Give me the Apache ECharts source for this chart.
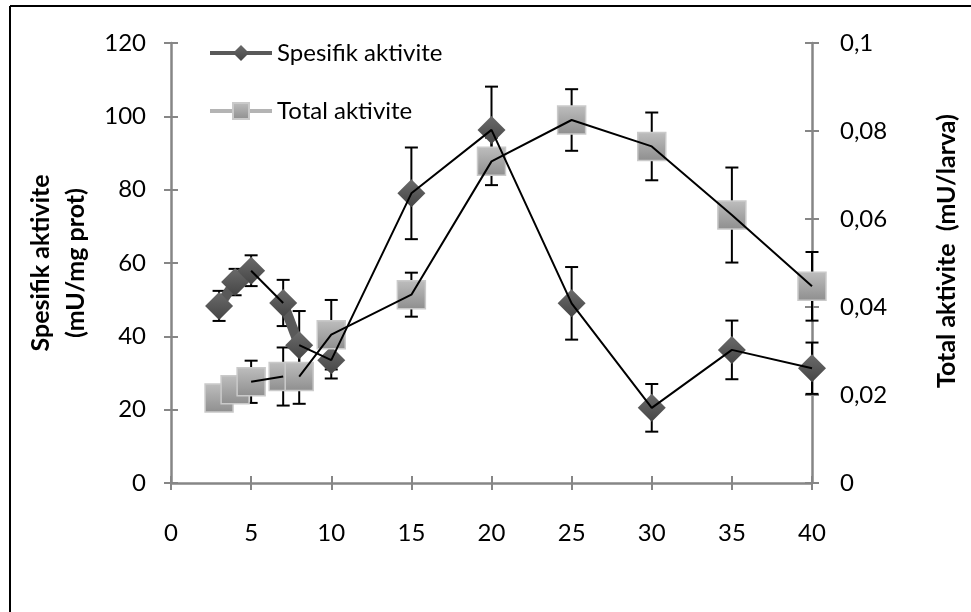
<!DOCTYPE html>
<html>
<head>
<meta charset="utf-8">
<script src="https://cdn.jsdelivr.net/npm/echarts@6/dist/echarts.min.js"></script>
<style>
    html, body { margin: 0; padding: 0; background: #fff; }
    #chart { width: 971px; height: 612px; }
</style>
</head>
<body>
<div id="chart"></div>
<script>
    // x ekseni: gün
    var days = [3, 4, 5, 7, 8, 10, 15, 20, 25, 30, 35, 40];
    // sol eksen: mU/mg prot
    var spesifik = [48.3, 54.8, 57.9, 49.1, 37.6, 33.5, 79.0, 96.3, 49.0, 20.5, 36.3, 31.3];
    var spesifikErr = [4.1, 3.6, 4.2, 6.3, 9.3, 5.0, 12.5, 11.8, 9.9, 6.5, 8.0, 7.0];
    // sag eksen: mU/larva
    var total = [0.0193, 0.0212, 0.0230, 0.0242, 0.0242, 0.0337, 0.0428, 0.0731, 0.0825, 0.0765, 0.0609, 0.0447];
    var totalErr = [0.002, 0.002, 0.0048, 0.0066, 0.0062, 0.0079, 0.005, 0.0054, 0.007, 0.0077, 0.0108, 0.0078];
    // hangi noktalar siyah / gri cizgiyle bagli
    var blackRuns = [[5, 7], [8, 10, 15, 20, 25, 30, 35, 40]];
    var grayRuns = [[3, 4, 5], [7, 8]];

    var FONT = 'Lato';
    var AXIS_GRAY = '#868686';

    function pairs(vals, run) {
        var out = [];
        for (var i = 0; i < run.length; i++) {
            var k = days.indexOf(run[i]);
            out.push([days[k], vals[k]]);
        }
        return out;
    }
    function allPairs(vals) {
        return pairs(vals, days);
    }
    function errData(vals, errs) {
        var out = [];
        for (var i = 0; i < days.length; i++) {
            out.push([days[i], vals[i] - errs[i], vals[i] + errs[i]]);
        }
        return out;
    }
    function errorBars(yIndex, vals, errs) {
        return {
            type: 'custom',
            yAxisIndex: yIndex,
            silent: true,
            z: 2,
            encode: {x: 0, y: [1, 2]},
            data: errData(vals, errs),
            renderItem: function (params, api) {
                var x = api.value(0);
                var lo = api.coord([x, api.value(1)]);
                var hi = api.coord([x, api.value(2)]);
                var w = 6.5;
                var st = {stroke: '#000', lineWidth: 2};
                return {
                    type: 'group',
                    children: [
                        {type: 'line', shape: {x1: hi[0], y1: hi[1], x2: lo[0], y2: lo[1]}, style: st},
                        {type: 'line', shape: {x1: hi[0] - w, y1: hi[1], x2: hi[0] + w, y2: hi[1]}, style: st},
                        {type: 'line', shape: {x1: lo[0] - w, y1: lo[1], x2: lo[0] + w, y2: lo[1]}, style: st}
                    ]
                };
            }
        };
    }
    function runLines(yIndex, vals, runs, color, width, z) {
        var list = [];
        for (var i = 0; i < runs.length; i++) {
            list.push({
                type: 'line',
                yAxisIndex: yIndex,
                data: pairs(vals, runs[i]),
                symbol: 'none',
                silent: true,
                z: z,
                lineStyle: {color: color, width: width}
            });
        }
        return list;
    }

    var series = [];
    series.push(errorBars(0, spesifik, spesifikErr));
    series.push(errorBars(1, total, totalErr));
    series = series.concat(runLines(0, spesifik, grayRuns, '#595959', 10, 3));
    series = series.concat(runLines(1, total, grayRuns, '#a6a6a6', 10, 3));
    series.push({
        name: 'Spesifik aktivite',
        type: 'line',
        yAxisIndex: 0,
        data: allPairs(spesifik),
        symbol: 'diamond',
        symbolSize: 28,
        z: 4,
        lineStyle: {opacity: 0},
        itemStyle: {
            color: new echarts.graphic.LinearGradient(0, 0, 0, 1, [
                {offset: 0, color: '#6b6b6b'}, {offset: 1, color: '#454545'}
            ])
        }
    });
    series.push({
        name: 'Total aktivite',
        type: 'line',
        yAxisIndex: 1,
        data: allPairs(total),
        symbol: 'rect',
        symbolSize: 28,
        z: 5,
        lineStyle: {opacity: 0},
        itemStyle: {
            color: new echarts.graphic.LinearGradient(0, 0, 0, 1, [
                {offset: 0, color: '#bebebe'}, {offset: 1, color: '#8e8e8e'}
            ]),
            borderColor: '#cacaca',
            borderWidth: 1.5
        }
    });
    series = series.concat(runLines(0, spesifik, blackRuns, '#000', 2, 6));
    series = series.concat(runLines(1, total, blackRuns, '#000', 2, 6));

    function tickOnly(pos, min, max, step) {
        return {
            type: 'value', position: pos, min: min, max: max, interval: step,
            axisLine: {show: false, onZero: false},
            axisTick: {show: true, inside: true, length: 7, lineStyle: {color: AXIS_GRAY, width: 2}},
            axisLabel: {show: false},
            splitLine: {show: false}
        };
    }

    var chart = echarts.init(document.getElementById('chart'));
    var option = {
        animation: false,
        backgroundColor: '#fff',
        grid: {left: 171, right: 159, top: 43, bottom: 129, outerBoundsMode: 'none'},
        legend: {
            left: 203,
            top: 36,
            orient: 'vertical',
            itemWidth: 62,
            itemHeight: 20,
            itemGap: 34,
            textStyle: {fontFamily: FONT, fontSize: 24, color: '#000'},
            data: [
                {name: 'Spesifik aktivite', lineStyle: {color: '#595959', width: 4, opacity: 1}},
                {name: 'Total aktivite', lineStyle: {color: '#b4b4b4', width: 4, opacity: 1}}
            ]
        },
        xAxis: [{
            type: 'value', position: 'bottom', min: 0, max: 40, interval: 5,
            axisLine: {show: true, onZero: false, lineStyle: {color: AXIS_GRAY, width: 2.5}},
            axisTick: {show: true, length: 7, lineStyle: {color: AXIS_GRAY, width: 2}},
            axisLabel: {margin: 38, fontFamily: FONT, fontSize: 24, color: '#000'},
            splitLine: {show: false}
        }, tickOnly('bottom', 0, 40, 5)],
        yAxis: [{
            type: 'value', position: 'left', min: 0, max: 120, interval: 20,
            name: 'Spesifik aktivite\n(mU/mg prot)',
            nameLocation: 'middle', nameRotate: 90, nameGap: 62,
            nameTextStyle: {fontFamily: FONT, fontSize: 25, fontWeight: 'bold', color: '#000', lineHeight: 35},
            axisLine: {show: true, onZero: false, lineStyle: {color: AXIS_GRAY, width: 2.5}},
            axisTick: {show: true, length: 7, lineStyle: {color: AXIS_GRAY, width: 2}},
            axisLabel: {margin: 25, fontFamily: FONT, fontSize: 24, color: '#000'},
            splitLine: {show: false}
        }, {
            type: 'value', position: 'right', min: 0, max: 0.1, interval: 0.02,
            name: 'Total aktivite  (mU/larva)',
            nameLocation: 'middle', nameRotate: 90, nameGap: 122,
            nameTextStyle: {fontFamily: FONT, fontSize: 25, fontWeight: 'bold', color: '#000', padding: [0, 0, 0, 24]},
            axisLine: {show: true, onZero: false, lineStyle: {color: AXIS_GRAY, width: 2.5}},
            axisTick: {show: true, length: 7, lineStyle: {color: AXIS_GRAY, width: 2}},
            axisLabel: {
                margin: 28, fontFamily: FONT, fontSize: 24, color: '#000',
                formatter: function (v) { return String(+v.toFixed(3)).replace('.', ','); }
            },
            splitLine: {show: false}
        }, tickOnly('left', 0, 120, 20), tickOnly('right', 0, 0.1, 0.02)],
        graphic: [
            {type: 'line', shape: {x1: 10, y1: 6, x2: 10, y2: 612}, style: {stroke: '#000', lineWidth: 2}},
            {type: 'line', shape: {x1: 10, y1: 6, x2: 971, y2: 6}, style: {stroke: '#000', lineWidth: 2}}
        ],
        series: series
    };
    chart.setOption(option);
</script>
</body>
</html>
